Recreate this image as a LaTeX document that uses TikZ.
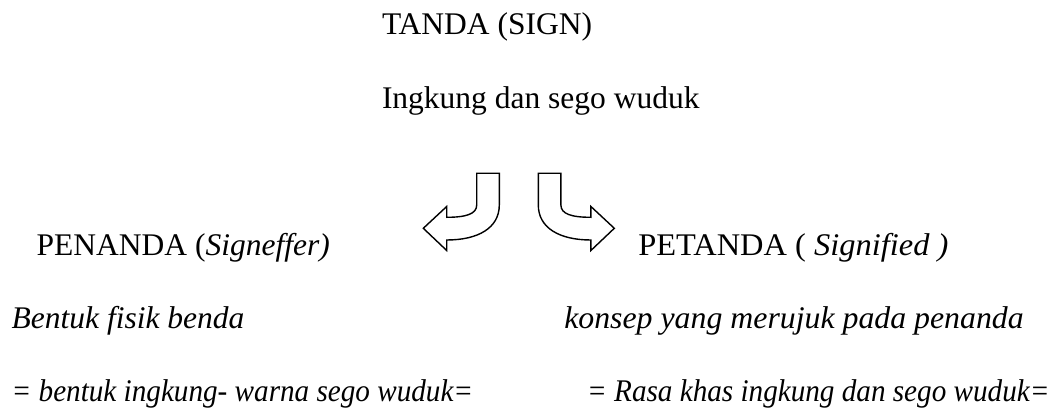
\documentclass[tikz,border=0pt]{standalone}
\usepackage{fontspec}
\setmainfont{Liberation Serif}
\tikzset{
  txt/.style={anchor=base west, inner sep=0pt, outer sep=0pt, font=\fontsize{31.5}{36}\selectfont},
  bendarrow/.style={draw=black, line width=1.4pt, line join=miter, fill=white}
}
\newcommand{\bendarrowpath}{%
  (476.7,173.3) -- (499.3,173.3) -- (499.3,205)
  .. controls (499.3,228) and (478,240) .. (446.7,240)
  -- (446.7,250.5) -- (423.3,228.3) -- (446.7,206.5) -- (446.7,217.3)
  .. controls (466,217.3) and (476.7,214) .. (476.7,205) -- cycle}
\begin{document}
\begin{tikzpicture}[x=1pt,y=-1pt]
\useasboundingbox (0,0) rectangle (1061,411);
\node[txt] (tanda) at (382,34.5) {TANDA (SIGN)};
\node[txt] (ingkung) at (382,108.3) {Ingkung dan sego wuduk};
\node[txt] (penanda) at (36.7,256) {PENANDA (\textit{Signeffer)}};
\node[txt, xscale=1.03] (petanda) at (638.3,256) {PETANDA ( \textit{Signified )}};
\node[txt] (bentuk) at (11.7,328.3) {\textit{Bentuk fisik benda}};
\node[txt, xscale=1.01] (konsep) at (564.3,328.3) {\textit{konsep yang merujuk pada penanda}};
\node[txt, xscale=0.926] (bentukeq) at (11.7,401.7) {\textit{= bentuk ingkung- warna sego wuduk=}};
\node[txt, xscale=0.926] (rasa) at (587.2,401.7) {\textit{= Rasa khas ingkung dan sego wuduk=}};
\draw[bendarrow] \bendarrowpath;
\begin{scope}[xshift=1037.6pt, xscale=-1]
\draw[bendarrow] \bendarrowpath;
\end{scope}
\end{tikzpicture}
\end{document}
